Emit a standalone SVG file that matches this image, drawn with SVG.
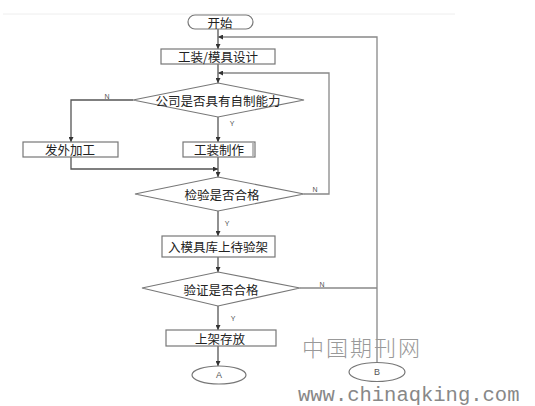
<svg xmlns="http://www.w3.org/2000/svg" width="535" height="406" viewBox="0 0 535 406">
<style>
.s{fill:#fff;stroke:#777;stroke-width:1.2}
.t{font-family:"Noto Sans CJK SC","Liberation Sans",sans-serif;font-size:12.5px;fill:#222;text-anchor:middle;dominant-baseline:central}
.l{font-family:"Liberation Sans",sans-serif;font-size:7px;fill:#555;text-anchor:middle;dominant-baseline:central}
.c{fill:none;stroke:#555;stroke-width:1.3}
.g{fill:none;stroke:#888;stroke-width:1.3}
</style>
<defs>
<marker id="a" viewBox="0 0 10 10" refX="10" refY="5" markerWidth="5" markerHeight="5" orient="auto" markerUnits="userSpaceOnUse"><path d="M0,0L10,5L0,10z" fill="#333"/></marker>
</defs>
<rect width="535" height="406" fill="#fff"/>
<line x1="3" y1="14" x2="455" y2="14" stroke="#eee" stroke-width="1"/>
<g id="connectors">
<line class="c" x1="218" y1="29" x2="218" y2="49" marker-end="url(#a)"/>
<line class="c" x1="218" y1="64" x2="218" y2="83" marker-end="url(#a)"/>
<polyline class="c" points="133,100 71,100 71,142" marker-end="url(#a)"/>
<line class="c" x1="218" y1="117" x2="218" y2="142" marker-end="url(#a)"/>
<polyline class="c" points="71,157 71,169 218,169" marker-end="url(#a)"/>
<line class="c" x1="218" y1="157" x2="218" y2="177" marker-end="url(#a)"/>
<polyline class="g" points="304,194 329,194 329,73 218,73" marker-end="url(#a)"/>
<line class="c" x1="218" y1="211" x2="218" y2="236" marker-end="url(#a)"/>
<line class="c" x1="218" y1="257" x2="218" y2="272" marker-end="url(#a)"/>
<line class="g" x1="300" y1="288" x2="377" y2="288"/>
<polyline class="g" points="377,363 377,37 218,37" marker-end="url(#a)"/>
<line class="c" x1="218" y1="306" x2="218" y2="330" marker-end="url(#a)"/>
<line class="c" x1="218" y1="346" x2="218" y2="366" marker-end="url(#a)"/>
<text class="l" x="107" y="96">N</text>
<text class="l" x="232" y="123">Y</text>
<text class="l" x="315" y="189">N</text>
<text class="l" x="227" y="223">Y</text>
<text class="l" x="322" y="284">N</text>
<text class="l" x="233" y="318">Y</text>
</g>
<g id="start"><rect class="s" x="188" y="15" width="65" height="14" rx="7"/><text class="t" x="220" y="22">开始</text></g>
<g id="design"><rect class="s" x="161" y="49" width="114" height="15"/><text class="t" x="218" y="56.5">工装/模具设计</text></g>
<g id="d1"><polygon class="s" points="218,83 304,100 218,117 133,100"/><text class="t" x="218" y="100">公司是否具有自制能力</text></g>
<g id="out"><rect class="s" x="23" y="142" width="95" height="15"/><text class="t" x="70" y="149.5">发外加工</text></g>
<g id="make"><rect class="s" x="183" y="142" width="72" height="15"/><line x1="253" y1="143" x2="253" y2="156" stroke="#777" stroke-width="1"/><text class="t" x="219" y="149.5">工装制作</text></g>
<g id="d2"><polygon class="s" points="218,177 304,194 218,211 135,194"/><text class="t" x="222" y="194">检验是否合格</text></g>
<g id="store"><rect class="s" x="162" y="236" width="113" height="21"/><text class="t" x="218" y="246.5">入模具库上待验架</text></g>
<g id="d3"><polygon class="s" points="218,272 300,288 218,306 142,288"/><text class="t" x="221" y="289">验证是否合格</text></g>
<g id="shelf"><rect class="s" x="166" y="330" width="110" height="16"/><text class="t" x="220" y="338">上架存放</text></g>
<g id="A"><ellipse class="s" cx="219" cy="375" rx="27" ry="9"/><text class="l" x="219" y="375" style="font-size:9px">A</text></g>
<g id="B"><ellipse class="s" cx="377" cy="372" rx="28" ry="9.5"/><text class="l" x="377" y="372" style="font-size:9px">B</text></g>
<text x="302" y="356" style="font-family:'Noto Sans CJK SC',serif;font-size:22px;fill:#999;font-weight:300;letter-spacing:2px">中国期刊网</text>
<text x="298" y="401" style="font-family:'Liberation Mono',monospace;font-size:20.5px;fill:#888">www.chinaqking.com</text>
</svg>
